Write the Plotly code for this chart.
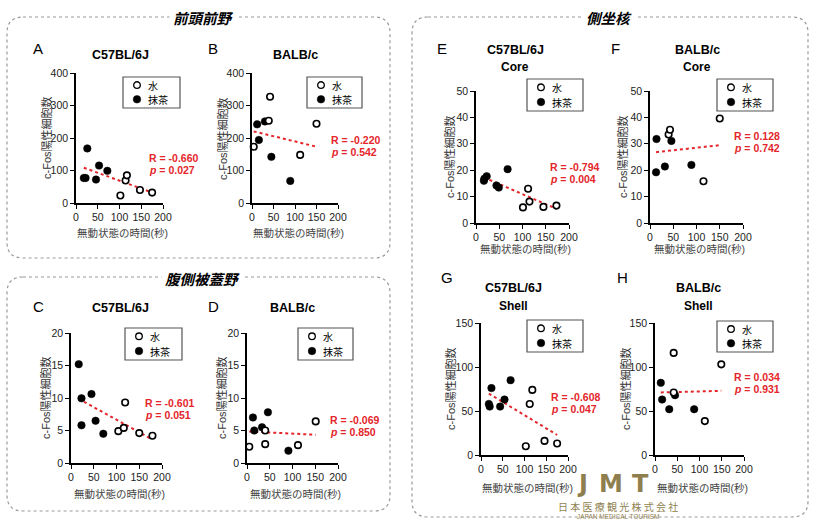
import numpy as np
import plotly.graph_objects as go

W, H = 819, 521

# ---------------- data ----------------
# A: 前頭前野 C57BL/6J
A_water_x = [102, 114, 117, 147, 175]
A_water_y = [23, 69, 85, 40, 32]
A_matcha_x = [18, 22, 26, 46, 53, 72]
A_matcha_y = [77, 77, 168, 72, 115, 99]
# B: 前頭前野 BALB/c
B_water_x = [4, 39, 42, 112, 150]
B_water_y = [173, 253, 327, 148, 244]
B_matcha_x = [12, 16, 30, 45, 89]
B_matcha_y = [242, 194, 251, 142, 68]
# C: 腹側被蓋野 C57BL/6J
C_water_x = [104, 116, 119, 150, 179]
C_water_y = [4.9, 5.4, 9.3, 4.6, 4.2]
C_matcha_x = [17, 23, 23, 45, 54, 71]
C_matcha_y = [15.2, 9.95, 5.8, 10.6, 6.5, 4.5]
# D: 腹側被蓋野 BALB/c
D_water_x = [5, 40, 40, 112, 151]
D_water_y = [2.5, 5.0, 2.9, 2.75, 6.4]
D_matcha_x = [13, 16, 33, 46, 91]
D_matcha_y = [7.0, 5.0, 5.5, 7.8, 1.9]
# E: 側坐核 Core C57BL/6J
E_water_x = [101, 112, 115, 145, 173]
E_water_y = [5.9, 13.0, 8.1, 6.1, 6.6]
E_matcha_x = [17, 18, 23, 44, 49, 68]
E_matcha_y = [16.0, 16.8, 17.7, 14.2, 13.4, 20.4]
# F: 側坐核 Core BALB/c
F_water_x = [40, 43, 115, 150]
F_water_y = [33.5, 35.3, 15.8, 39.6]
F_matcha_x = [13, 14, 32, 46, 89]
F_matcha_y = [19.2, 31.8, 21.4, 31.1, 22.0]
# G: 側坐核 Shell C57BL/6J
G_water_x = [103, 112, 118, 146, 175]
G_water_y = [10, 58, 74, 16, 13]
G_matcha_x = [18, 20, 24, 44, 54, 68]
G_matcha_y = [58, 55, 76, 55, 63, 85]
# H: 側坐核 Shell BALB/c
H_water_x = [42, 42, 112, 149]
H_water_y = [116, 71, 38.5, 103]
H_matcha_x = [13, 16, 32, 45, 88]
H_matcha_y = [82, 63, 52, 68, 52]

R_labels = {"A": "-0.660", "B": "-0.220", "C": "-0.601", "D": "-0.069",
            "E": "-0.794", "F": "0.128", "G": "-0.608", "H": "0.034"}
p_labels = {"A": "0.027", "B": "0.542", "C": "0.051", "D": "0.850",
            "E": "0.004", "F": "0.742", "G": "0.047", "H": "0.931"}
x_ticks = [0, 50, 100, 150, 200]
region_titles = ["前頭前野", "腹側被蓋野", "側坐核"]
legend_labels = ["水", "抹茶"]
x_title = "無動状態の時間(秒)"
y_title = "c-Fos陽性細胞数"

DATA = {
    "A": (A_water_x, A_water_y, A_matcha_x, A_matcha_y),
    "B": (B_water_x, B_water_y, B_matcha_x, B_matcha_y),
    "C": (C_water_x, C_water_y, C_matcha_x, C_matcha_y),
    "D": (D_water_x, D_water_y, D_matcha_x, D_matcha_y),
    "E": (E_water_x, E_water_y, E_matcha_x, E_matcha_y),
    "F": (F_water_x, F_water_y, F_matcha_x, F_matcha_y),
    "G": (G_water_x, G_water_y, G_matcha_x, G_matcha_y),
    "H": (H_water_x, H_water_y, H_matcha_x, H_matcha_y),
}

# ---------------- layout (pixels) ----------------
PANELS = [
    dict(k="A", x0=76, x1=163, y0=73, y1=203, ymax=400, dt=100, letter=(38, 48),
         titles=["C57BL/6J"], tx=120, ty=[55], ytx=46, xty=233, leg=(123, 77, 180, 108), rp=(147, 158)),
    dict(k="B", x0=252, x1=338, y0=73, y1=203, ymax=400, dt=100, letter=(213, 48),
         titles=["BALB/c"], tx=295, ty=[55], ytx=222, xty=233, leg=(307, 77, 362, 108), rp=(329, 140)),
    dict(k="C", x0=71, x1=162, y0=333, y1=463, ymax=20, dt=5, letter=(38, 306),
         titles=["C57BL/6J"], tx=120, ty=[308], ytx=45, xty=494, leg=(125, 328, 182, 360), rp=(143, 403)),
    dict(k="D", x0=247, x1=338, y0=333, y1=463, ymax=20, dt=5, letter=(213, 306),
         titles=["BALB/c"], tx=292, ty=[308], ytx=221, xty=494, leg=(298, 328, 353, 360), rp=(328, 420)),
    dict(k="E", x0=476, x1=569, y0=91, y1=223, ymax=50, dt=10, letter=(442, 48),
         titles=["C57BL/6J", "Core"], tx=515, ty=[50, 67], ytx=450, xty=249, leg=(527, 79, 583, 111), rp=(548, 167)),
    dict(k="F", x0=650, x1=743, y0=91, y1=223, ymax=50, dt=10, letter=(615, 48),
         titles=["BALB/c", "Core"], tx=697, ty=[50, 67], ytx=623, xty=249, leg=(717, 79, 773, 111), rp=(732, 136)),
    dict(k="G", x0=481, x1=568, y0=323, y1=455, ymax=150, dt=50, letter=(447, 277),
         titles=["C57BL/6J", "Shell"], tx=513, ty=[288, 306], ytx=450, xty=488, leg=(527, 320, 583, 352), rp=(549, 397)),
    dict(k="H", x0=655, x1=744, y0=323, y1=455, ymax=150, dt=50, letter=(622, 277),
         titles=["BALB/c", "Shell"], tx=698, ty=[288, 306], ytx=625, xty=488, leg=(717, 321, 773, 352), rp=(732, 377)),
]

def PX(p):
    return p / W

def PY(p):
    return 1 - p / H

LAT = "Liberation Sans, Arial, sans-serif"
CJK = "Liberation Sans, Noto Sans CJK JP, sans-serif"
RED = "#e4262b"

fig = go.Figure()
annotations = []
shapes = []
layout_axes = {}

def ann(x, y, text, size, color="black", family=LAT, xanchor="center", **kw):
    d = dict(x=PX(x), y=PY(y), xref="paper", yref="paper", text=text, showarrow=False,
             xanchor=xanchor, yanchor="middle", font=dict(family=family, size=size, color=color))
    d.update(kw)
    annotations.append(d)

for i, P in enumerate(PANELS, start=1):
    k = P["k"]
    wx, wy, mx, my = DATA[k]
    xa = "x" if i == 1 else f"x{i}"
    ya = "y" if i == 1 else f"y{i}"
    # trend line from all points
    allx = np.array(wx + mx, dtype=float)
    ally = np.array(wy + my, dtype=float)
    slope, icpt = np.polyfit(allx, ally, 1)
    lx = np.array([allx.min(), allx.max()])
    fig.add_trace(go.Scatter(x=lx, y=slope * lx + icpt, mode="lines",
                             line=dict(color=RED, width=2, dash="dot"),
                             xaxis=xa, yaxis=ya, showlegend=False, hoverinfo="skip"))
    fig.add_trace(go.Scatter(x=mx, y=my, mode="markers", cliponaxis=False,
                             marker=dict(color="black", size=7.5, line=dict(color="black", width=0.5)),
                             xaxis=xa, yaxis=ya, showlegend=False))
    fig.add_trace(go.Scatter(x=wx, y=wy, mode="markers", cliponaxis=False,
                             marker=dict(color="white", size=6.5, line=dict(color="black", width=1.6)),
                             xaxis=xa, yaxis=ya, showlegend=False))
    axcommon = dict(showline=True, linecolor="black", linewidth=1.5, ticks="outside",
                    ticklen=4, tickwidth=1.2, tickcolor="black", showgrid=False, zeroline=False,
                    tickfont=dict(family=LAT, size=10.5, color="#222"), fixedrange=True,
                    automargin=False)
    layout_axes["xaxis" if i == 1 else f"xaxis{i}"] = dict(
        domain=[PX(P["x0"]), PX(P["x1"])], range=[0, 200], tickvals=x_ticks,
        anchor=ya, **axcommon)
    layout_axes["yaxis" if i == 1 else f"yaxis{i}"] = dict(
        domain=[PY(P["y1"]), PY(P["y0"])], range=[0, P["ymax"]], dtick=P["dt"], tick0=0,
        anchor=xa, **axcommon)

    ann(P["letter"][0], P["letter"][1], k, 15)
    for t, ty in zip(P["titles"], P["ty"]):
        ann(P["tx"], ty, f"<b>{t}</b>", 12.5 if t not in ("Core", "Shell") else 12)
    ann(P["ytx"], (P["y0"] + P["y1"]) / 2, y_title, 11, color="#333", family=CJK, textangle=-90)
    ann((P["x0"] + P["x1"]) / 2 + 3, P["xty"], x_title, 10.5, color="#444", family=CJK)
    rx, ry = P["rp"]
    ann(rx, ry, f"<b>R = {R_labels[k]}</b>", 10.5, color=RED, xanchor="left")
    ann(rx, ry + 12, f"<b><i>p</i> = {p_labels[k]}</b>", 10.5, color=RED, xanchor="left")
    # legend box
    lx0, ly0, lx1, ly1 = P["leg"]
    shapes.append(dict(type="rect", xref="paper", yref="paper", x0=PX(lx0), x1=PX(lx1),
                       y0=PY(ly1), y1=PY(ly0), line=dict(color="#555", width=1.2), fillcolor="white"))
    rows = [ly0 + (ly1 - ly0) * 0.26, ly0 + (ly1 - ly0) * 0.72]
    for j, (lab, ry_) in enumerate(zip(legend_labels, rows)):
        cx = lx0 + 14
        r = 3.3 if j == 0 else 3.8
        shapes.append(dict(type="circle", xref="paper", yref="paper",
                           x0=PX(cx - r), x1=PX(cx + r), y0=PY(ry_ + r), y1=PY(ry_ - r),
                           line=dict(color="black", width=1.3 if j == 0 else 0.5),
                           fillcolor="white" if j == 0 else "black"))
        ann(cx + 9, ry_, lab, 10, family="Noto Sans CJK JP", xanchor="left")

# dashed rounded frames
def rounded(x0, y0, x1, y1, r):
    pts = [
        f"M {PX(x0 + r)},{PY(y0)}",
        f"L {PX(x1 - r)},{PY(y0)}",
        f"Q {PX(x1)},{PY(y0)} {PX(x1)},{PY(y0 + r)}",
        f"L {PX(x1)},{PY(y1 - r)}",
        f"Q {PX(x1)},{PY(y1)} {PX(x1 - r)},{PY(y1)}",
        f"L {PX(x0 + r)},{PY(y1)}",
        f"Q {PX(x0)},{PY(y1)} {PX(x0)},{PY(y1 - r)}",
        f"L {PX(x0)},{PY(y0 + r)}",
        f"Q {PX(x0)},{PY(y0)} {PX(x0 + r)},{PY(y0)}",
        "Z",
    ]
    return " ".join(pts)

FRAMES = [(7, 17, 390, 258), (7, 277, 390, 511), (412, 17, 808, 517)]
for (x0, y0, x1, y1) in FRAMES:
    shapes.insert(0, dict(type="path", xref="paper", yref="paper", path=rounded(x0, y0, x1, y1, 16),
                          line=dict(color="#999", width=1.2, dash="dot"), layer="below"))

REGION_POS = [(203, 17), (202, 278), (609, 17)]
for t, (x, y) in zip(region_titles, REGION_POS):
    ann(x, y, f"<b><i>{t}</i></b>", 14.5, family="Noto Sans CJK JP", bgcolor="white", borderpad=3)

# logo
GOLD = "#8f7f4f"
for ch, x in zip(["J", "M", "T"], [582, 611, 640]):
    ann(x, 484, f"<b>{ch}</b>", 24, color=GOLD, family="DejaVu Sans")
ann(618, 506, "日 本 医 療 観 光 株 式 会 社", 10, color=GOLD, family="Noto Sans CJK JP")
ann(618, 516, "JAPAN MEDICAL TOURISM", 6.5, color=GOLD)

fig.update_layout(width=W, height=H, autosize=False,
                  margin=dict(l=0, r=0, t=0, b=0, pad=0, autoexpand=False),
                  paper_bgcolor="white", plot_bgcolor="white", showlegend=False,
                  annotations=annotations, shapes=shapes, **layout_axes)

fig.write_html("out.html", config={"responsive": False, "displayModeBar": False},
               post_script="document.body.style.margin='0';document.body.style.overflow='hidden';")
